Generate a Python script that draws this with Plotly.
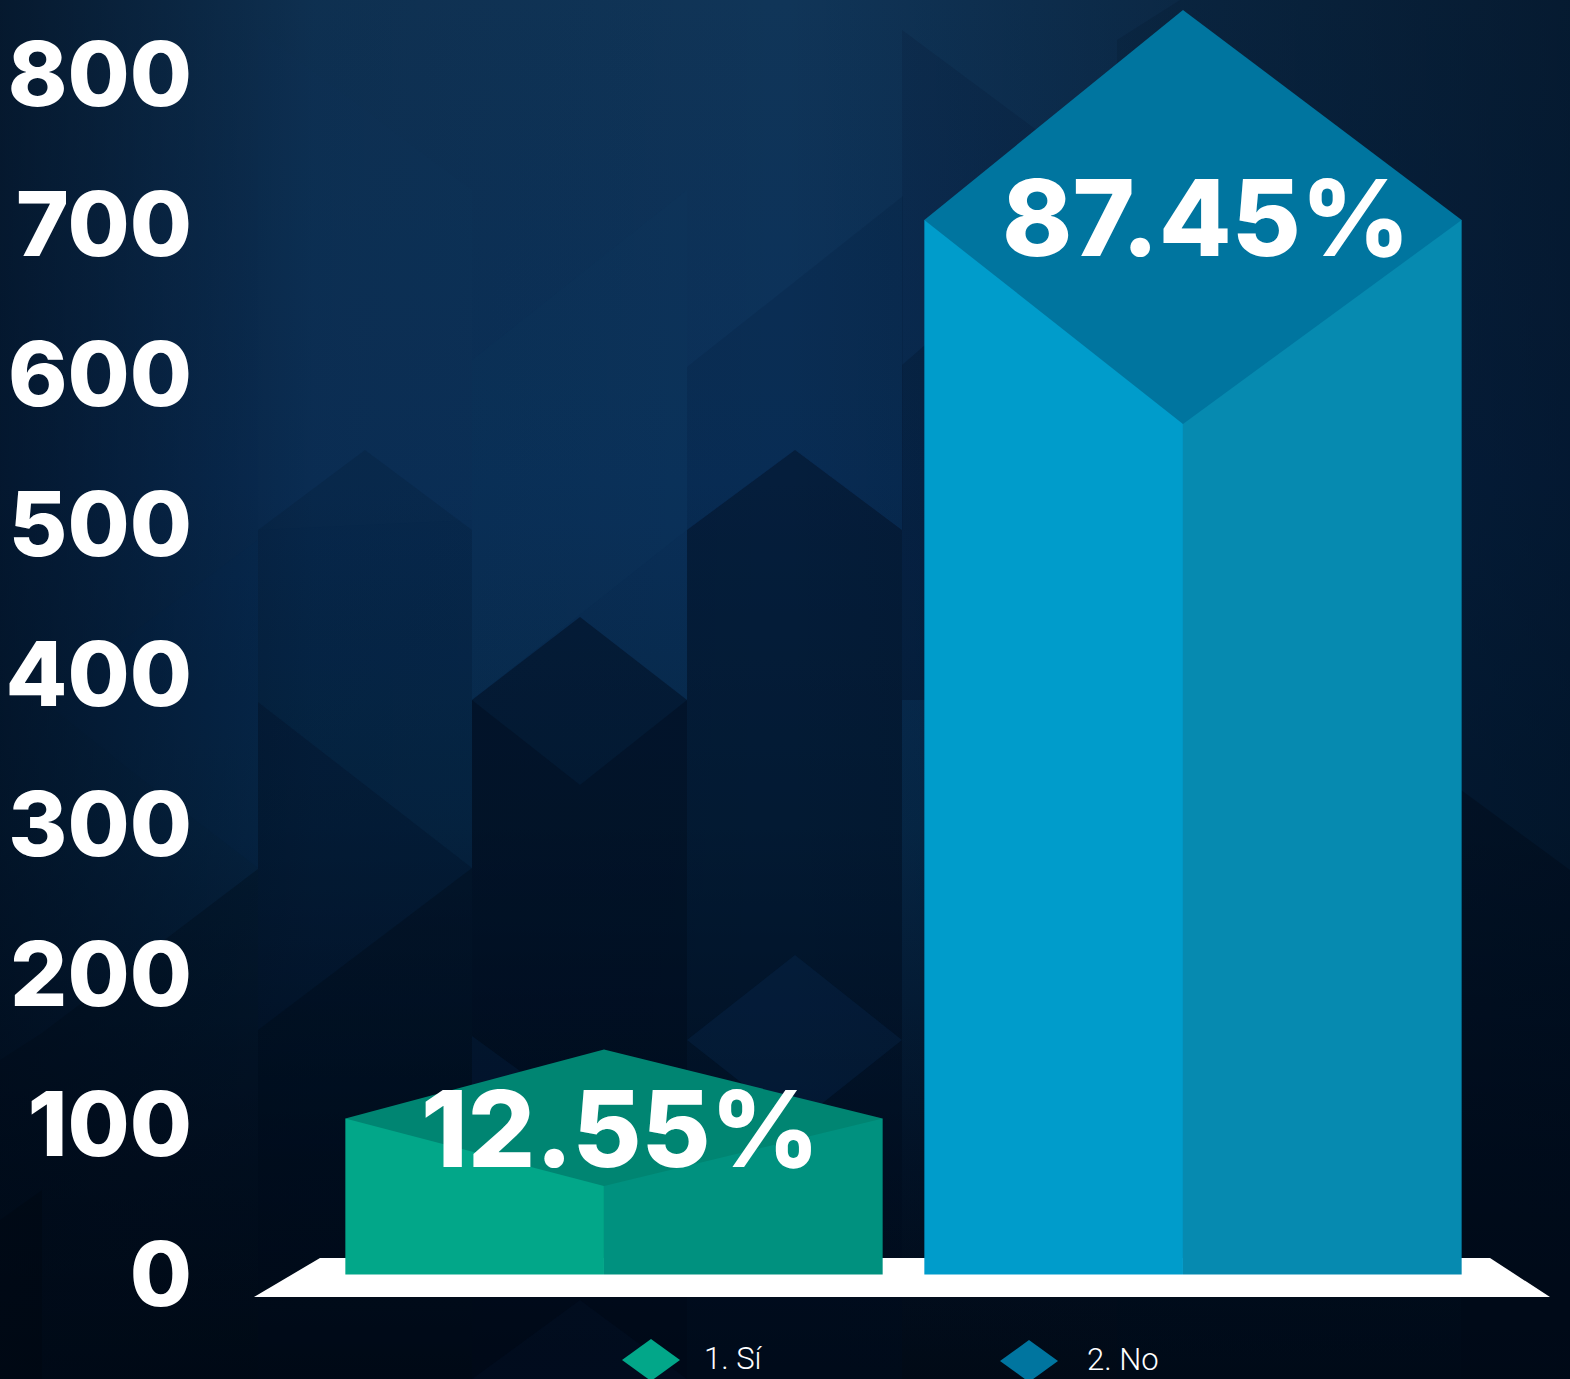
import base64
import plotly.graph_objects as go

# ---- data ----
categories = ["1. Sí", "2. No"]
values = [104, 703]
percent_labels = ["12.55%", "87.45%"]
y_ticks = [0, 100, 200, 300, 400, 500, 600, 700, 800]

# ---- styles / geometry ----
W, H = 1570, 1379
LEFT = 218
BAR_CENTER_PX, BAR_STEP_PX = 614, 579
Y0_PX, PX_PER_UNIT = 1274.5, 1.5
FACE_L, FACE_M, FACE_R = -0.464, -0.0173, 0.464
ROOF_RISE = [46, 140]
ROOF_DROP = [45, 136]
COL_LEFT = ["#02A789", "#009CCB"]
COL_RIGHT = ["#00917F", "#068AB0"]
COL_ROOF = ["#008572", "#00759F"]
LABEL_SHIFT_X = [6, 13]
LABEL_SHIFT_Y = [-10, 3]
BOLD = "Inter"

def dx(px):
    return (px - BAR_CENTER_PX) / BAR_STEP_PX

def dy(py):
    return (Y0_PX - py) / PX_PER_UNIT

def path(points):
    return "M" + " L".join(f"{dx(x):.5f},{dy(y):.3f}" for x, y in points) + " Z"

# ---- background artwork ----
def poly(pts, fill, op):
    p = " ".join(f"{x},{y}" for x, y in pts)
    return f'<polygon points="{p}" fill="{fill}" fill-opacity="{op}"/>'

polys = [
    # pale facets high up
    poly([(258, 30), (472, 190), (472, 520), (258, 530)], "#14406a", 0.08),
    poly([(472, 360), (687, 190), (687, 530), (472, 700)], "#14406a", 0.10),
    poly([(687, 367), (903, 196), (903, 530), (795, 450), (687, 530)], "#001a3a", 0.16),
    poly([(902, 365), (925, 345), (925, 700), (902, 700)], "#000c20", 0.22),
    poly([(902, 30), (1117, 190), (1117, 700), (902, 700)], "#000c20", 0.12),
    poly([(1117, 40), (1180, 0), (1570, 0), (1570, 1379), (1117, 1379)], "#000c20", 0.15),
    poly([(1461, 790), (1570, 870), (1570, 1379), (1461, 1379)], "#000814", 0.40),
    poly([(258, 530), (365, 450), (472, 530), (472, 868), (258, 702)], "#001428", 0.16),
    # dark chevrons
    poly([(472, 1379), (472, 700), (580, 617), (687, 700), (687, 1379)], "#000c1e", 0.50),
    poly([(472, 700), (580, 785), (687, 700), (687, 1379), (472, 1379)], "#000814", 0.30),
    poly([(687, 1379), (687, 530), (795, 450), (902, 530), (902, 1379)], "#000c1e", 0.50),
    poly([(258, 702), (472, 868), (472, 1379), (258, 1379)], "#000c1e", 0.36),
    poly([(0, 1060), (42, 1033), (258, 869), (258, 1379), (0, 1379)], "#000814", 0.32),
    poly([(258, 1030), (472, 868), (472, 1379), (258, 1379)], "#000814", 0.32),
    poly([(0, 1220), (42, 1190), (42, 1379), (0, 1379)], "#000000", 0.35),
    # lighter facets
    poly([(687, 1040), (795, 955), (902, 1040), (795, 1125)], "#0a3460", 0.26),
    poly([(472, 1036), (560, 1100), (472, 1190)], "#0a3460", 0.22),
    poly([(472, 1379), (580, 1300), (687, 1379)], "#0a3460", 0.08),
    poly([(42, 700), (258, 540), (258, 868), (130, 770)], "#0a3460", 0.14),
]
svg = f'''<svg xmlns="http://www.w3.org/2000/svg" width="{W}" height="{H}" viewBox="0 0 {W} {H}">
<defs>
<linearGradient id="v" x1="0" y1="0" x2="0" y2="1">
<stop offset="0" stop-color="#103558"/><stop offset="0.35" stop-color="#0a305a"/>
<stop offset="0.6" stop-color="#062848"/><stop offset="0.85" stop-color="#021226"/><stop offset="1" stop-color="#010a16"/>
</linearGradient>
<linearGradient id="h" x1="0" y1="0" x2="1" y2="0">
<stop offset="0" stop-color="#000a18" stop-opacity="0.65"/><stop offset="0.2" stop-color="#000a18" stop-opacity="0.12"/>
<stop offset="0.5" stop-color="#000a18" stop-opacity="0"/><stop offset="0.75" stop-color="#000a18" stop-opacity="0.3"/>
<stop offset="1" stop-color="#000a18" stop-opacity="0.55"/>
</linearGradient>
</defs>
<rect width="{W}" height="{H}" fill="url(#v)"/>
{"".join(polys)}
<rect width="{W}" height="{H}" fill="url(#h)"/>
</svg>'''
bg_uri = "data:image/svg+xml;base64," + base64.b64encode(svg.encode()).decode()

fig = go.Figure()

# front faces of the bars
fig.add_trace(go.Bar(x=list(range(len(values))), y=values, offset=FACE_L, width=FACE_M - FACE_L,
                     marker=dict(color=COL_LEFT, line=dict(width=0)), hoverinfo="skip", showlegend=False))
fig.add_trace(go.Bar(x=list(range(len(values))), y=values, offset=FACE_M, width=FACE_R - FACE_M,
                     marker=dict(color=COL_RIGHT, line=dict(width=0)), hoverinfo="skip", showlegend=False))

# roofs
for i, v in enumerate(values):
    fig.add_trace(go.Scatter(
        x=[i + FACE_L, i + FACE_M, i + FACE_R, i + FACE_M, i + FACE_L],
        y=[v, v + ROOF_RISE[i], v, v - ROOF_DROP[i], v],
        mode="lines", line=dict(width=0), fill="toself", fillcolor=COL_ROOF[i],
        hoverinfo="skip", showlegend=False))

# floor and legend glyphs
shapes = [dict(type="path", xref="x", yref="y", layer="below", line=dict(width=0), fillcolor="#FFFFFF",
               path=path([(320, 1258), (1490, 1258), (1550, 1297), (254, 1297)]))]
legend_px = [(651, 1360, 702), (1029, 1361, 1085)]
for i, (cx, cy, tx) in enumerate(legend_px):
    shapes.append(dict(type="path", xref="x", yref="y", line=dict(width=0),
                       fillcolor=COL_LEFT[0] if i == 0 else COL_ROOF[1],
                       path=path([(cx - 29, cy), (cx, cy - 21), (cx + 29, cy), (cx, cy + 21)])))

annotations = []
for i, v in enumerate(values):
    annotations.append(dict(x=i, y=v, xref="x", yref="y", text=percent_labels[i], showarrow=False,
                            xshift=LABEL_SHIFT_X[i], yshift=LABEL_SHIFT_Y[i], xanchor="center", yanchor="middle",
                            font=dict(family=BOLD, size=106, color="#FFFFFF", weight=800)))
for i, (cx, cy, tx) in enumerate(legend_px):
    annotations.append(dict(x=dx(tx), y=dy(cy - 2), xref="x", yref="y", text=categories[i], showarrow=False,
                            xanchor="left", yanchor="middle",
                            font=dict(family="Roboto", size=31, color="#FFFFFF", weight=300)))

fig.update_layout(
    template=None,
    width=W, height=H, autosize=False,
    margin=dict(l=LEFT, r=0, t=0, b=0, pad=0, autoexpand=False),
    paper_bgcolor="#021022", plot_bgcolor="rgba(0,0,0,0)",
    barmode="overlay", showlegend=False,
    shapes=shapes, annotations=annotations,
    images=[dict(source=bg_uri, xref="paper", yref="paper", x=-LEFT / (W - LEFT), y=1,
                 sizex=W / (W - LEFT), sizey=1, sizing="stretch", layer="below",
                 xanchor="left", yanchor="top")],
    xaxis=dict(range=[dx(LEFT), dx(W)], showticklabels=False, showgrid=False, zeroline=False,
               showline=False, ticks="", automargin=False),
    yaxis=dict(range=[dy(H), dy(0)], tickmode="array", tickvals=y_ticks, ticktext=[str(t) for t in y_ticks],
               ticks="outside", ticklen=7, tickcolor="rgba(0,0,0,0)", showgrid=False, zeroline=False, showline=False,
               automargin=False,
               tickfont=dict(family=BOLD, size=90, color="#FFFFFF", weight=800)),
)

fig.write_html("out.html", config={"displayModeBar": False},
               post_script="document.body.style.margin='0';document.documentElement.style.overflow='hidden';")
